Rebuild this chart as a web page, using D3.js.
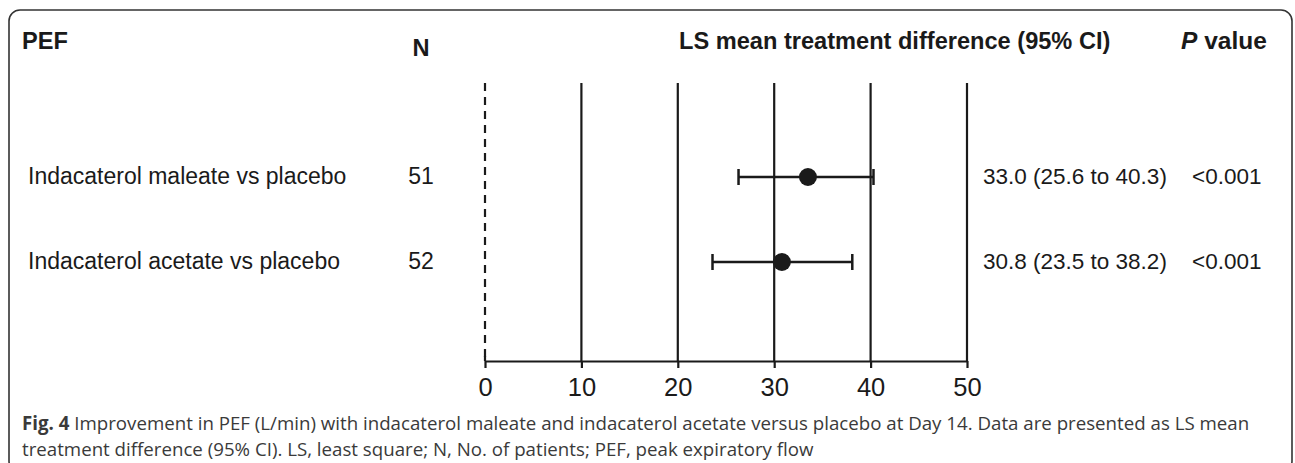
<!DOCTYPE html>
<meta charset="utf-8" />
<script src="https://d3js.org/d3.v7.js"></script>
<style>
  body { margin: 0; background: #fff; }
  text { font-family: "Liberation Sans", Arial, sans-serif; fill: #1a1a1a; }
  .caption { font-family: "Open Sans", "Noto Sans", sans-serif; fill: #3a3a3a; }
</style>
<div id="chart"></div>
<script>
  // values
  const comparisons = ["Indacaterol maleate vs placebo", "Indacaterol acetate vs placebo"];
  const nPatients = [51, 52];
  const meanDiff = [33.5, 30.8];
  const ciLow = [26.3, 23.6];
  const ciHigh = [40.3, 38.1];
  const ciLabels = ["33.0 (25.6 to 40.3)", "30.8 (23.5 to 38.2)"];
  const pValues = ["<0.001", "<0.001"];
  const xTicks = [0, 10, 20, 30, 40, 50];

  const W = 1295, H = 463;
  const svg = d3.select("#chart").append("svg")
    .attr("width", W).attr("height", H);

  // rounded frame
  svg.append("rect")
    .attr("x", 9).attr("y", 10)
    .attr("width", 1283).attr("height", 462)
    .attr("rx", 11)
    .attr("fill", "none")
    .attr("stroke", "#333")
    .attr("stroke-width", 1.6);

  const x = d3.scaleLinear().domain([0, 50]).range([485, 967]);
  const y = d3.scalePoint().domain(comparisons).range([177, 262]);
  const plotTop = 83, axisY = 361;

  // headers
  const hdr = svg.append("g").style("font-weight", "bold").style("font-size", "23.6px");
  hdr.append("text").attr("x", 22).attr("y", 49).text("PEF");
  hdr.append("text").attr("x", 421).attr("y", 56).attr("text-anchor", "middle").text("N");
  hdr.append("text").attr("x", 679).attr("y", 49).text("LS mean treatment difference (95% CI)");
  const pv = hdr.append("text").attr("x", 1181).attr("y", 49).style("font-size", "24.5px");
  pv.append("tspan").style("font-style", "italic").text("P");
  pv.append("tspan").text(" value");

  // reference line at zero
  svg.append("line")
    .attr("x1", x(0)).attr("x2", x(0))
    .attr("y1", plotTop).attr("y2", axisY)
    .attr("stroke", "#1a1a1a")
    .attr("stroke-width", 2.2)
    .attr("stroke-dasharray", "8,6");

  // vertical grid lines
  svg.selectAll(".grid")
    .data(xTicks.filter(d => d > 0))
    .join("line")
    .attr("class", "grid")
    .attr("x1", d => x(d)).attr("x2", d => x(d))
    .attr("y1", plotTop).attr("y2", axisY)
    .attr("stroke", "#1a1a1a")
    .attr("stroke-width", 2.2);

  // x axis
  const xAxis = svg.append("g")
    .attr("transform", `translate(0, ${axisY})`)
    .call(d3.axisBottom(x).tickValues(xTicks).tickSize(7).tickPadding(10).tickSizeOuter(0));
  xAxis.select(".domain").attr("stroke", "#1a1a1a").attr("stroke-width", 2.2);
  xAxis.selectAll(".tick line").attr("stroke", "#1a1a1a").attr("stroke-width", 2.2);
  xAxis.selectAll(".tick text")
    .style("font-family", "Liberation Sans, Arial, sans-serif")
    .style("font-size", "25.5px")
    .attr("fill", "#1a1a1a");
  // small cap above the axis at zero
  svg.append("line")
    .attr("x1", x(0)).attr("x2", x(0))
    .attr("y1", axisY - 5).attr("y2", axisY)
    .attr("stroke", "#1a1a1a").attr("stroke-width", 2.2);

  // rows
  const rows = svg.selectAll(".row")
    .data(comparisons)
    .join("g")
    .attr("class", "row");

  rows.append("text")
    .attr("x", 28).attr("y", d => y(d) + 7)
    .style("font-size", "23px")
    .text(d => d);

  rows.append("text")
    .attr("x", 421).attr("y", d => y(d) + 7)
    .attr("text-anchor", "middle")
    .style("font-size", "23px")
    .text((d, i) => nPatients[i]);

  rows.append("line")
    .attr("x1", (d, i) => x(ciLow[i])).attr("x2", (d, i) => x(ciHigh[i]))
    .attr("y1", d => y(d)).attr("y2", d => y(d))
    .attr("stroke", "#1a1a1a").attr("stroke-width", 2.5);

  [ciLow, ciHigh].forEach(arr => {
    rows.append("line")
      .attr("x1", (d, i) => x(arr[i])).attr("x2", (d, i) => x(arr[i]))
      .attr("y1", d => y(d) - 8).attr("y2", d => y(d) + 8)
      .attr("stroke", "#1a1a1a").attr("stroke-width", 2.5);
  });

  rows.append("circle")
    .attr("cx", (d, i) => x(meanDiff[i]))
    .attr("cy", d => y(d))
    .attr("r", 9)
    .attr("fill", "#1a1a1a");

  rows.append("text")
    .attr("x", 983).attr("y", d => y(d) + 7)
    .style("font-size", "22.5px")
    .text((d, i) => ciLabels[i]);

  rows.append("text")
    .attr("x", 1192).attr("y", d => y(d) + 7)
    .style("font-size", "22.5px")
    .text((d, i) => pValues[i]);

  // caption
  const cap = svg.append("g").attr("class", "caption").style("font-size", "18.7px");
  const l1 = cap.append("text").attr("class", "caption").attr("x", 22).attr("y", 430);
  l1.append("tspan").style("font-weight", "bold").text("Fig. 4");
  l1.append("tspan").text(" Improvement in PEF (L/min) with indacaterol maleate and indacaterol acetate versus placebo at Day 14. Data are presented as LS mean");
  cap.append("text").attr("class", "caption").attr("x", 22).attr("y", 456)
    .text("treatment difference (95% CI). LS, least square; N, No. of patients; PEF, peak expiratory flow");
</script>
